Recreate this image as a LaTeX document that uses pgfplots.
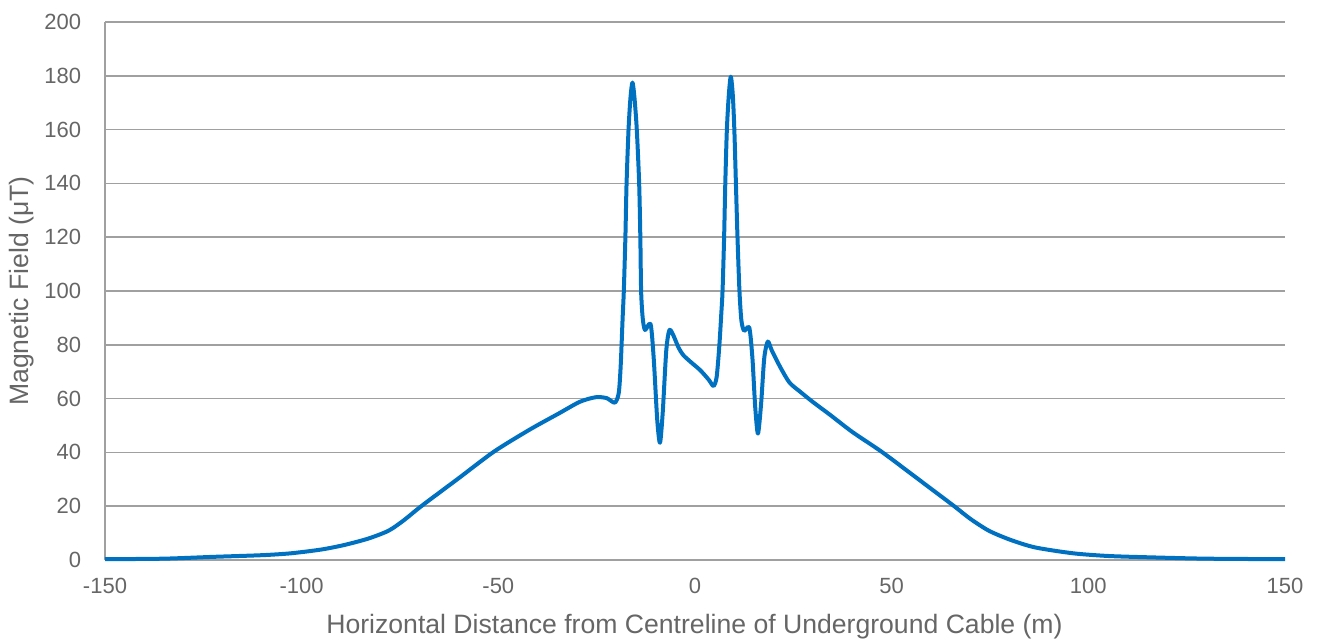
\documentclass[border=0pt]{standalone}
\usepackage{fontspec}
\setmainfont{Liberation Sans}
\usepackage{pgfplots}
\pgfplotsset{compat=1.18}
\definecolor{fieldblue}{HTML}{0070C0}
\definecolor{gridgray}{HTML}{A0A0A0}
\definecolor{textgray}{HTML}{666666}
\begin{document}
\begin{tikzpicture}
\useasboundingbox (-52.5pt,-39.5pt) rectangle (607.5pt,280pt);
\begin{axis}[
  name=ax,
  scale only axis,
  width=590pt, height=269pt,
  xmin=-150, xmax=150, ymin=0, ymax=200,
  xtick={-150,-100,...,150},
  ytick={0,20,...,200},
  axis x line=bottom, axis y line=left,
  axis line style={gridgray, line width=0.75pt, -},
  major tick length=0pt,
  ymajorgrids,
  major grid style={gridgray, line width=0.75pt},
  tick label style={font=\fontsize{11}{13}\selectfont, text=textgray},
  /pgf/number format/assume math mode=true,
  xticklabel style={inner sep=0pt, anchor=north, yshift=-9pt},
  yticklabel style={inner sep=0pt, anchor=east, xshift=-11.7pt},
  clip=false,
]
\addplot[fieldblue, line width=2pt, smooth, tension=0.45, line join=round] coordinates {
(-150,0.3) (-135,0.5) (-122,1.2) (-110,1.8) (-102.7,2.5) (-95,3.9)
(-89.1,5.6) (-83,8.0) (-77.9,10.9) (-74,14.8) (-69.6,20) (-60,30.5)
(-51.1,40.3) (-42,48.5) (-34.6,54.5) (-29.3,58.8) (-25.3,60.5) (-22.5,60.2)
(-20.4,58.5) (-19.4,62) (-18.9,72) (-18.4,90) (-18.1,100) (-17.7,120)
(-17.4,140) (-16.9,160) (-16.4,172) (-15.9,177.5) (-15.4,172) (-14.8,160)
(-14.2,140) (-13.9,120) (-13.7,100) (-13.3,90) (-12.7,85.5)
(-11.3,87.7) (-10.5,75) (-9.6,52) (-8.9,43.6) (-8.2,55) (-7.3,78)
(-6.5,85.5) (-5.5,83.5) (-4.2,79) (-3,76.2) (-1,73.5) (1.3,70.6)
(3.5,67) (4.7,64.7) (5.5,68) (6.2,80) (6.7,92) (7.0,100) (7.4,120)
(7.7,140) (8.1,160) (8.6,173) (9.1,179.7) (9.6,173) (10.0,160)
(10.4,140) (10.8,120) (11.3,100) (11.8,89) (12.5,85.2) (13.8,86.4)
(14.6,75) (15.3,57) (16.0,47) (16.8,58) (17.6,75) (18.5,81.2)
(19.5,78) (21.6,71.9) (24,66) (26.7,62.6) (30,58.7) (34.4,53.9)
(40,47.6) (47.4,40.3) (55,32) (60,26.5) (65.9,20) (70,15.3)
(74.7,10.9) (80,7.6) (86.4,4.7) (96.1,2.5) (105,1.5) (115.5,1.0)
(130,0.5) (150,0.3)
};
\end{axis}
\node[rotate=90, anchor=center, text=textgray, font=\fontsize{13.3}{15}\selectfont]
  at (-41.5pt,134.5pt) {Magnetic Field (μT)};
\node[anchor=north, inner sep=0pt, text=textgray, font=\fontsize{13.3}{15}\selectfont]
  at (294.75pt,-27pt) {Horizontal Distance from Centreline of Underground Cable (m)};
\end{tikzpicture}
\end{document}
